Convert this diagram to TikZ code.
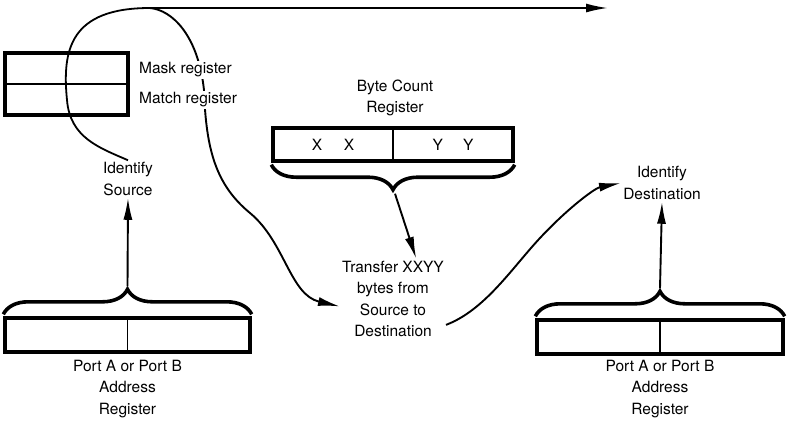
\documentclass[tikz,border=0pt]{standalone}
\usepackage{fontspec}
\setmainfont{TeX Gyre Heros}
\usetikzlibrary{arrows.meta,calc,decorations.pathreplacing}

\begin{document}
\begin{tikzpicture}[
  x=1pt, y=-1pt,
  font=\fontsize{15.5}{21.5}\selectfont,
  arrow/.style={-{Latex[length=22pt,width=9pt]}, line width=1.9pt},
  wire/.style={line width=1.8pt},
  reg/.style={draw, line width=3.4pt, inner sep=0pt},
  divider/.style={line width=1.8pt},
  bracket/.style={decorate, decoration={brace, amplitude=25pt, raise=2pt}, line width=3.6pt},
  txt/.style={align=center, inner sep=2pt},
  lbl/.style={anchor=west, fill=white, inner sep=2pt}
]

\useasboundingbox (0,0) rectangle (788,421);

% Registers.
\node[reg, minimum width=123pt, minimum height=62pt] (maskreg) at (66.5,84) {};
\draw[divider] (maskreg.west) -- (maskreg.east);
\node[reg, minimum width=240pt, minimum height=33pt] (bcreg) at (393,144.5) {};
\draw[divider] (bcreg.north) -- (bcreg.south);
\node[reg, minimum width=245pt, minimum height=34pt] (lport) at (127.5,335) {};
\draw[divider] (lport.north) -- (lport.south);
\node[reg, minimum width=246pt, minimum height=34pt] (rport) at (660,337) {};
\draw[divider] (rport.north) -- (rport.south);

\node (xx) at (333,145) {X\hspace{1.4em}X};
\node (yy) at (453,145) {Y\hspace{1.3em}Y};

% Texts.
\node[txt] (bclbl) at (395,98) {Byte Count\\Register};
\node[txt] (lportlbl) at (127.5,389) {Port A or Port B\\Address\\Register};
\node[txt] (rportlbl) at (660,389) {Port A or Port B\\Address\\Register};
\node[txt] (idsrc) at (128,179) {Identify\\Source};
\node[txt] (iddst) at (662,183) {Identify\\Destination};
\node[txt] (transfer) at (393,299) {Transfer XXYY\\bytes from\\Source to\\Destination};

% Braces.
\draw[bracket] (lport.north west) -- (lport.north east);
\draw[bracket] (rport.north west) -- (rport.north east);
\draw[bracket, decoration={mirror}] (bcreg.south west) -- (bcreg.south east);
\coordinate (lbtip) at ($(lport.north)+(0,-30)$);
\coordinate (rbtip) at ($(rport.north)+(0,-30)$);
\coordinate (bctip) at ($(bcreg.south)+(2,31)$);

% Flow lines.
\coordinate (jn) at (150,8);
\coordinate (topend) at (608,8);
\draw[wire] (idsrc.north) .. controls (100,148) and (70,138) .. (67,100)
  .. controls (62,50) and (70,8) .. (jn);
\draw[arrow] (jn) -- (topend);
\draw[arrow] (jn) .. controls (172,10) and (198,35) .. (204,90)
  .. controls (206,150) and (216,185) .. (250,213)
  .. controls (285,242) and (290,295) .. (transfer.188);
\draw[arrow] (transfer.-26) .. controls (485,310) and (512,268) .. (540,238)
  .. controls (568,208) and (595,188) .. (iddst.west);
\draw[arrow] (bctip) -- (transfer.60);
\draw[arrow] (lbtip) -- (idsrc.south);
\draw[arrow] (rbtip) -- (iddst.south);

\node[lbl] (masklbl) at (137,70) {Mask register};
\node[lbl] (matchlbl) at (137,100) {Match register};

\end{tikzpicture}
\end{document}
